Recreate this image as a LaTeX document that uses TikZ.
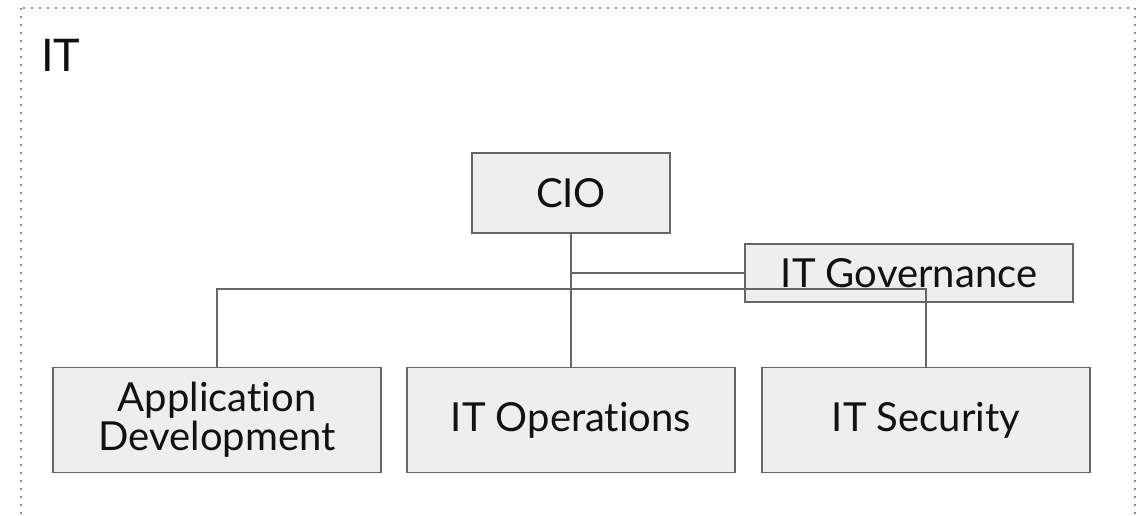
\documentclass[tikz,border=0pt]{standalone}
\usepackage{fontspec}
\setmainfont{Lato}[RawFeature=-liga]
\definecolor{boxfill}{HTML}{EEEEEE}
\definecolor{boxline}{HTML}{666666}
\definecolor{frameline}{HTML}{8C8C8C}
\definecolor{ink}{HTML}{111111}
\tikzset{
  unit/.style={draw=boxline, fill=boxfill, line width=1.6pt, inner sep=0pt,
    text=ink, font=\fontsize{40}{39}\selectfont, align=center},
  link/.style={draw=boxline, line width=1.6pt},
  frame/.style={draw=frameline, line width=2pt, dash pattern=on 2pt off 6pt}
}
\begin{document}
\begin{tikzpicture}[x=1pt, y=-1pt]
  \useasboundingbox (0,0) rectangle (1145,516);
  % department frame, open at the bottom edge
  \begin{scope}
    \clip (0,0) rectangle (1145,516);
    \draw[frame] (21,8) rectangle (1135,540);
  \end{scope}
  \node[anchor=base west, inner sep=0pt, text=ink, font=\fontsize{45}{45}\selectfont] (title) at (41,72) {IT};

  % units
  \node[unit, minimum width=198pt, minimum height=80pt] (cio) at (571,193) {CIO};
  \node[unit, minimum width=328pt, minimum height=58pt] (gov) at (909,273) {IT Governance};
  \node[unit, minimum width=328pt, minimum height=105pt] (app) at (217,420) {Application\\Development};
  \node[unit, minimum width=328pt, minimum height=105pt] (ops) at (571,420) {IT Operations};
  \node[unit, minimum width=328pt, minimum height=105pt] (sec) at (926,420) {IT Security};

  % reporting lines
  \coordinate (bus) at (0,289);
  \draw[link] (cio.south) -- (cio.south |- ops.north);
  \draw[link] (cio.south |- gov.west) -- (gov.west);
  \draw[link] (app.north) -- (app.north |- bus) -- (sec.north |- bus) -- (sec.north);
\end{tikzpicture}
\end{document}
